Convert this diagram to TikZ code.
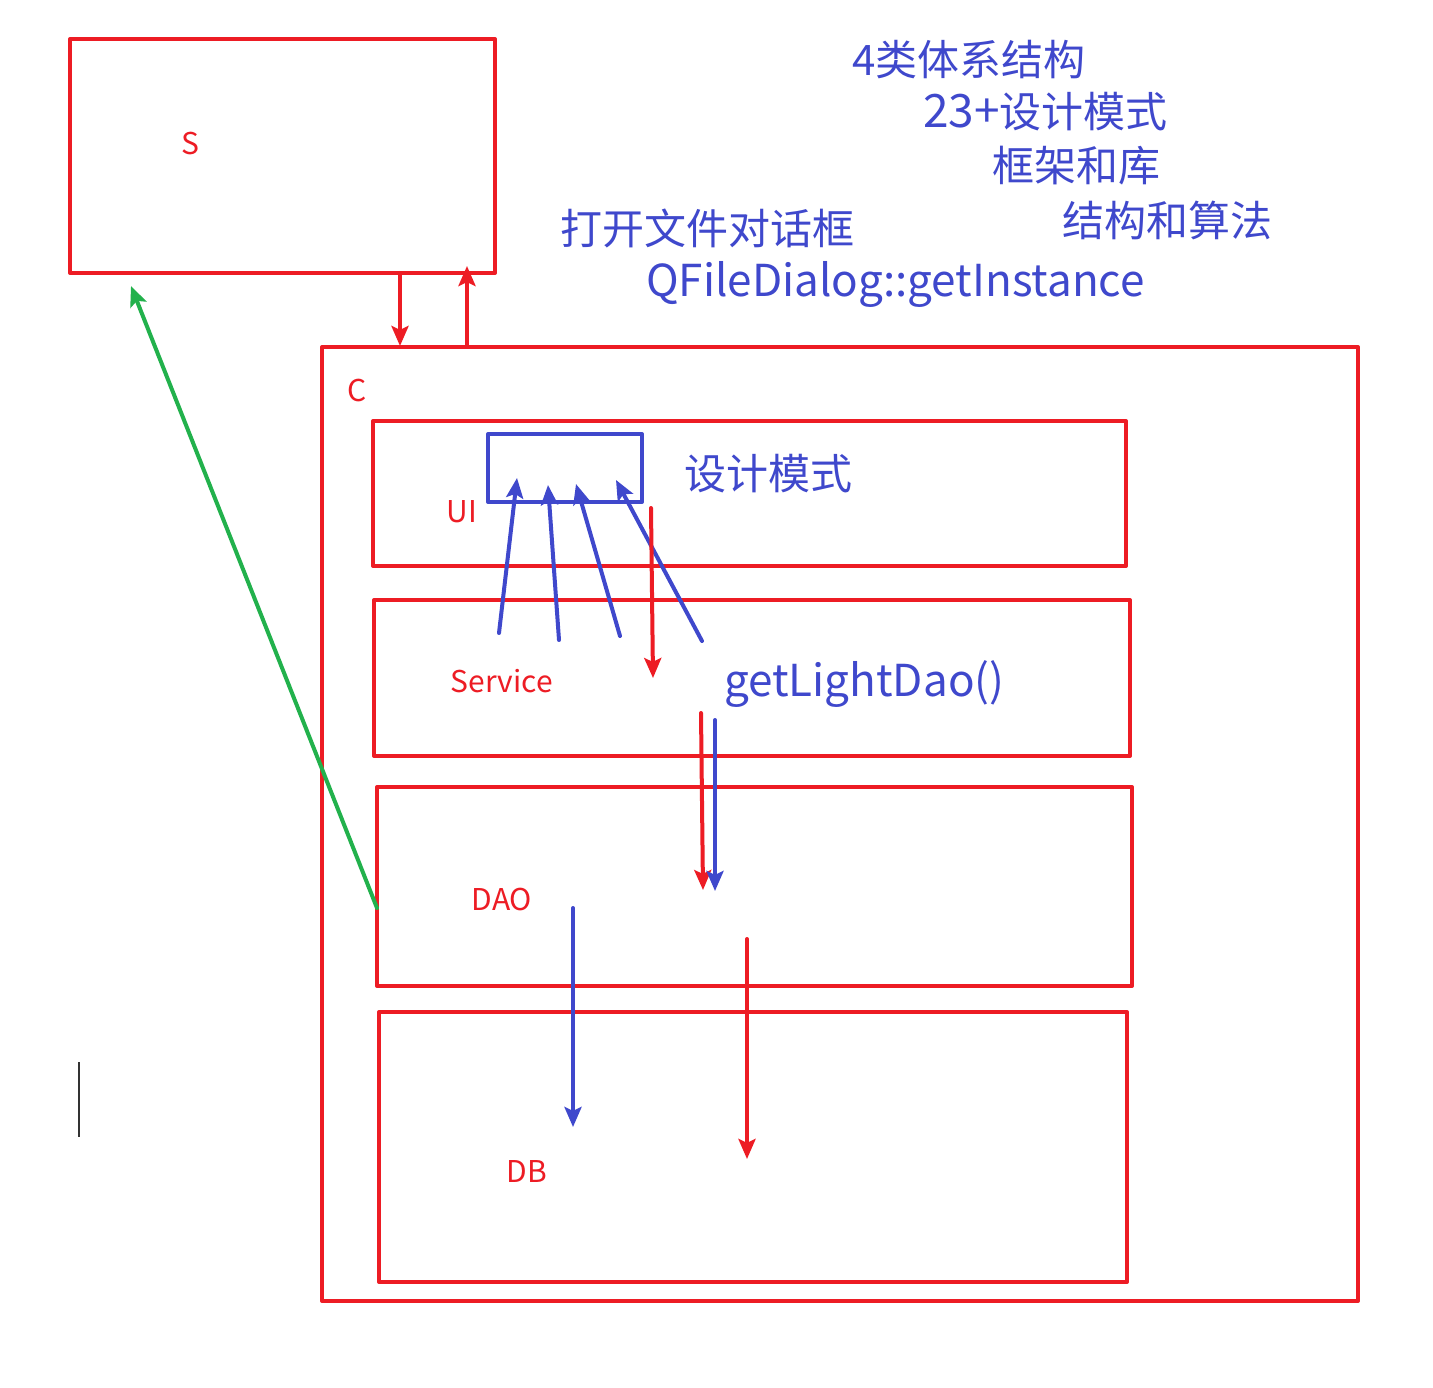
\documentclass[tikz,border=0pt]{standalone}
\usepackage{fontspec}
\setmainfont{Noto Sans CJK SC}
\usetikzlibrary{arrows.meta}
\definecolor{pred}{HTML}{ED1C24}
\definecolor{pblue}{HTML}{3F48CC}
\definecolor{pgreen}{HTML}{22B14C}
\begin{document}
\begin{tikzpicture}[x=1pt,y=-1pt,
  rbox/.style={draw=pred,line width=4pt,line join=round,inner sep=0pt,outer sep=0pt},
  bbox/.style={draw=pblue,line width=4pt,line join=round,inner sep=0pt,outer sep=0pt},
  rlabel/.style={text=pred,font=\fontsize{30}{34}\selectfont,inner sep=0pt},
  blabel/.style={text=pblue,font=\fontsize{42}{48}\selectfont,inner sep=0pt,anchor=west},
  llabel/.style={blabel,font=\fontsize{44}{50}\selectfont},
  arr/.style={line width=4pt,line cap=round,-{Stealth[length=20pt,width=17pt,inset=4pt]}},
  rarr/.style={arr,draw=pred,color=pred},
  barr/.style={arr,draw=pblue,color=pblue},
  garr/.style={arr,draw=pgreen,color=pgreen}]
\useasboundingbox (0,0) rectangle (1433,1388);
\fill[white] (0,0) rectangle (1433,1388);
% boxes
\node[rbox,minimum width=425pt,minimum height=234pt] (S) at (282.5,156) {};
\node[rbox,minimum width=1036pt,minimum height=954pt] (C) at (840,824) {};
\node[rbox,minimum width=753pt,minimum height=145pt] (UI) at (749.5,493.5) {};
\node[bbox,minimum width=154pt,minimum height=68pt] (UIbox) at (565,468) {};
\node[rbox,minimum width=756pt,minimum height=156pt] (SV) at (752,678) {};
\node[rbox,minimum width=755pt,minimum height=199pt] (DAO) at (754.5,886.5) {};
\node[rbox,minimum width=748pt,minimum height=270pt] (DB) at (753,1147) {};
% labels
\node[rlabel] (Sl) at (190,144) {S};
\node[rlabel] (Cl) at (357,391) {C};
\node[rlabel] (UIl) at (462,512) {UI};
\node[rlabel] (SVl) at (502,681) {Service};
\node[rlabel] (DAOl) at (502,899) {DAO};
\node[rlabel] (DBl) at (527,1171) {DB};
\node[blabel] (dp) at (684,474) {设计模式};
\node[llabel] (gld) at (724,684) {getLightDao()};
\node[blabel] (t1) at (852,60) {4类体系结构};
\node[blabel] (t2) at (923,112) {{\fontsize{46}{48}\selectfont 23+}设计模式};
\node[blabel] (t3) at (992,166) {框架和库};
\node[blabel] (t4) at (1062,220) {结构和算法};
\node[blabel] (t5) at (560,228) {打开文件对话框};
\node[llabel] (t6) at (646,284) {QFileDialog::getInstance};
% coordinates for connectors
\coordinate (sc1) at (400,273);
\coordinate (sc2) at (400,346);
\coordinate (cs1) at (467,347);
\coordinate (cs2) at (467,266);
\coordinate (g1) at (377,908);
\coordinate (g2) at (131,286);
\coordinate (a1s) at (499,633); \coordinate (a1e) at (517,478);
\coordinate (a2s) at (559,640); \coordinate (a2e) at (548,485);
\coordinate (a3s) at (620,636); \coordinate (a3e) at (576,484);
\coordinate (a4s) at (702,641); \coordinate (a4e) at (616,480);
\coordinate (r1s) at (651,508); \coordinate (r1e) at (653,678);
\coordinate (r2s) at (701,713); \coordinate (r2e) at (703,890);
\coordinate (b2s) at (715,720); \coordinate (b2e) at (715,891);
\coordinate (b3s) at (573,908); \coordinate (b3e) at (573,1127);
\coordinate (r3s) at (747,939); \coordinate (r3e) at (747,1159);
% connectors
\draw[rarr] (sc1) -- (sc2);
\draw[rarr] (cs1) -- (cs2);
\draw[garr] (g1) -- (g2);
\draw[barr] (a1s) -- (a1e);
\draw[barr] (a2s) -- (a2e);
\draw[barr] (a3s) -- (a3e);
\draw[barr] (a4s) -- (a4e);
\draw[rarr] (r1s) -- (r1e);
\draw[rarr] (r2s) -- (r2e);
\draw[barr] (b2s) -- (b2e);
\draw[barr] (b3s) -- (b3e);
\draw[rarr] (r3s) -- (r3e);
% text cursor
\draw[black!80,line width=2.5pt] (79,1062) -- (79,1137);
\end{tikzpicture}
\end{document}
